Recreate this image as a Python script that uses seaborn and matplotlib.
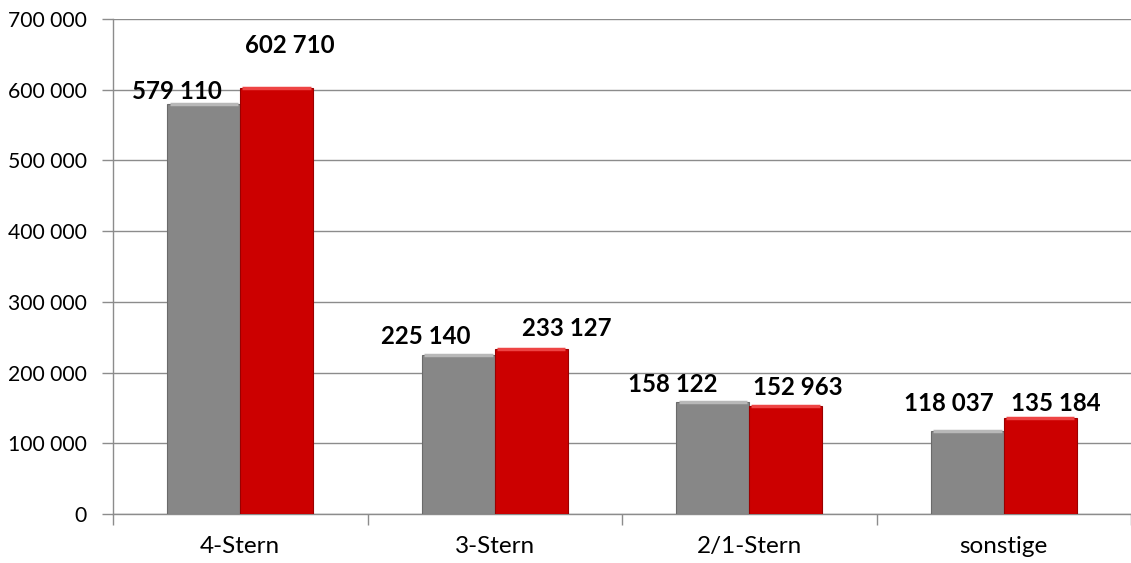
import matplotlib
matplotlib.use("Agg")
import matplotlib.pyplot as plt
import seaborn as sns
import pandas as pd
from matplotlib.ticker import FixedLocator, FuncFormatter

categories = ["4-Stern", "3-Stern", "2/1-Stern", "sonstige"]
series_a = [579110, 225140, 158122, 118037]
series_b = [602710, 233127, 152963, 135184]
series_names = ["Serie A", "Serie B"]

# label offsets (pixels) from bar-top centre to label centre
offsets_a = [(-27, 14), (-33, 19), (-40, 19), (-18, 28)]
offsets_b = [(13, 43), (36, 22), (12, 19), (16, 16)]

df = pd.DataFrame({
    "cat": categories * 2,
    "value": series_a + series_b,
    "series": [series_names[0]] * 4 + [series_names[1]] * 4,
})

sns.set_theme(style="white")
plt.rcParams["font.family"] = ["Lato", "DejaVu Sans"]

fig = plt.figure(figsize=(11.31, 5.63), dpi=100)
ax = fig.add_axes([113 / 1131, 49 / 563, 1 - 113 / 1131, (514 - 19) / 563])

gray = "#878787"
red = "#CC0000"
sns.barplot(data=df, x="cat", y="value", hue="series", palette=[gray, red],
            width=0.573, gap=0, legend=False, ax=ax, saturation=1,
            edgecolor="#6a6a6a", linewidth=0.8, zorder=3)

# darker edge for red bars
for p in ax.patches:
    fc = p.get_facecolor()
    if fc[0] > 0.7 and fc[1] < 0.2:
        p.set_edgecolor("#9a0000")

ax.set_xlim(-0.5, 3.5)
ax.set_ylim(0, 700000)
ax.yaxis.set_major_locator(FixedLocator(range(0, 700001, 100000)))
ax.yaxis.set_major_formatter(FuncFormatter(lambda v, p: f"{v:,.0f}".replace(",", " ")))
ax.grid(axis="y", color="#8c8c8c", linewidth=1.0, zorder=0)
ax.set_axisbelow(True)

for side in ["top", "right"]:
    ax.spines[side].set_visible(False)
for side in ["left", "bottom"]:
    ax.spines[side].set_color("#8c8c8c")
    ax.spines[side].set_linewidth(1.0)

ax.tick_params(axis="y", which="major", length=8, width=1, color="#8c8c8c",
               pad=11, labelsize=15.2, labelcolor="black", left=True)
ax.set_xticks(range(4))
ax.set_xticklabels(categories)
ax.tick_params(axis="x", which="major", length=0, pad=16, labelsize=17.5, labelcolor="black")
ax.set_xticks([-0.5, 0.5, 1.5, 2.5, 3.5], minor=True)
ax.tick_params(axis="x", which="minor", length=8, width=1, color="#8c8c8c", bottom=True)
ax.set_xlabel("")
ax.set_ylabel("")

# bevel-like highlight on top of each bar
for cont, light in zip(ax.containers, ["#b8b8b8", "#ee4444"]):
    for bar in cont.patches:
        x0 = bar.get_x()
        w = bar.get_width()
        h = bar.get_height()
        ax.plot([x0 + w * 0.03, x0 + w * 0.97], [h, h], transform=ax.transData,
                color=light, linewidth=2.5, solid_capstyle="butt", zorder=4)

# bar labels
for cont, vals, offs in zip(ax.containers, [series_a, series_b], [offsets_a, offsets_b]):
    for bar, v, (dx, dy) in zip(cont.patches, vals, offs):
        cx = bar.get_x() + bar.get_width() / 2
        ax.annotate(f"{v:,.0f}".replace(",", " "), xy=(cx, bar.get_height()),
                    xytext=(dx, dy - 8.5), textcoords="offset pixels",
                    ha="center", va="baseline", fontsize=17.3, fontweight="bold",
                    color="black", zorder=5, annotation_clip=False)

fig.savefig("out.png", dpi=100)
